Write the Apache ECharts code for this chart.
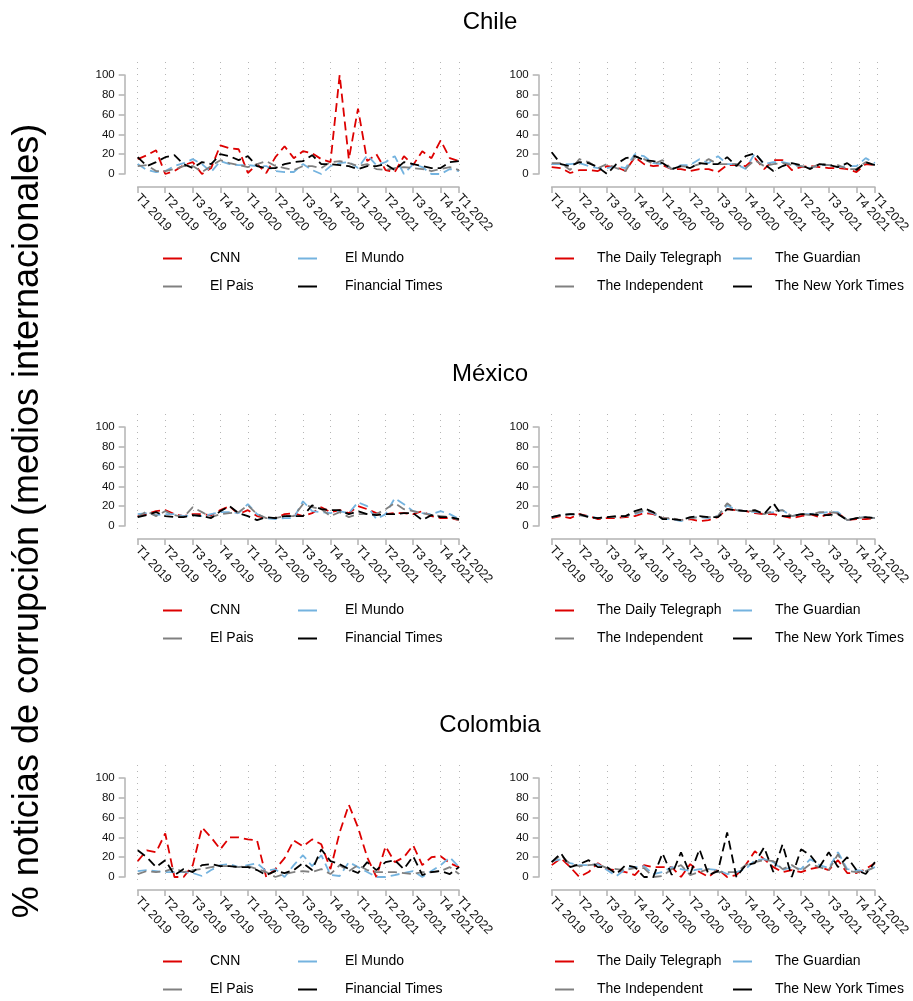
<!DOCTYPE html>
<html>
<head>
<meta charset="utf-8">
<script src="https://cdn.jsdelivr.net/npm/echarts@6/dist/echarts.min.js"></script>
<style>
  html, body { margin: 0; padding: 0; background: #fff; }
  #chart { width: 913px; height: 1001px; }
</style>
</head>
<body>
<div id="chart"></div>
<script>
// tick labels (quarters) and the month index where each sits
const quarterLabels = ['T1 2019', 'T2 2019', 'T3 2019', 'T4 2019', 'T1 2020', 'T2 2020', 'T3 2020',
  'T4 2020', 'T1 2021', 'T2 2021', 'T3 2021', 'T4 2021', 'T1 2022'];
const tickMonths = [0, 3, 6, 9, 12, 15, 18, 21, 24, 27, 30, 33, 35];

const countries = ['Chile', 'México', 'Colombia'];
const namesLeft = ['CNN', 'El Mundo', 'El Pais', 'Financial Times'];
const namesRight = ['The Daily Telegraph', 'The Guardian', 'The Independent', 'The New York Times'];

// monthly values, Jan 2019 - Dec 2021
const chileCNN = [15,19,24,0,3,9,12,0,6,29,26,25, 1,10,1,17,28,16,23,21,15,12,100,15, 66,13,20,4,2,18,9,23,16,34,16,13];
const chileElMundo = [10,4,2,3,8,11,15,10,2,13,10,9, 9,8,8,3,2,2,10,4,0,8,11,12, 6,19,9,12,18,0,10,7,0,0,5,3];
const chileElPais = [8,9,3,3,5,8,8,2,8,14,11,9, 7,10,13,8,6,4,8,8,6,12,13,11, 8,10,5,4,6,7,6,5,3,5,7,4];
const chileFT = [17,8,12,17,19,10,6,12,10,20,18,14, 18,8,6,6,10,12,13,19,10,10,9,8, 5,8,8,10,4,12,10,8,6,6,12,13];

const chileDT = [7,6,1,4,4,3,8,7,3,17,10,8, 9,5,5,3,5,5,2,9,9,8,16,5, 14,14,4,7,8,7,6,6,5,2,10,9];
const chileGuardian = [10,10,10,11,8,6,6,8,6,20,18,11, 10,5,9,9,15,11,18,10,10,5,21,10, 12,12,10,8,6,9,9,7,8,8,16,11];
const chileIndep = [11,11,4,15,12,6,10,6,3,18,15,10, 14,5,8,7,10,15,10,10,10,6,14,8, 10,11,9,8,6,10,9,9,5,5,12,9];
const chileNYT = [22,10,8,12,11,7,0,10,16,18,14,13, 11,5,8,6,11,10,10,17,8,18,21,10, 3,8,11,9,5,10,9,7,11,4,12,9];

const mexicoCNN = [10,12,15,16,12,10,12,12,11,16,20,12, 16,10,8,8,12,13,10,13,19,14,16,13, 20,17,13,12,13,13,12,15,10,8,8,6];
const mexicoElMundo = [12,13,11,12,12,10,11,10,12,14,14,13, 22,12,8,7,8,8,25,15,14,13,15,13, 24,20,7,12,28,22,15,13,12,15,12,7];
const mexicoElPais = [9,15,10,15,11,9,19,14,9,12,13,14, 21,12,8,8,10,10,22,19,17,10,14,9, 12,12,12,17,23,17,15,13,11,10,9,6];
const mexicoFT = [9,11,14,10,9,9,11,10,8,15,20,13, 10,6,9,8,10,10,10,21,17,16,16,12, 15,12,11,12,12,13,13,6,11,9,9,7];

const mexicoDT = [8,10,8,12,10,7,8,8,9,10,13,12, 8,7,6,7,5,6,9,17,16,15,13,12, 12,10,8,10,12,9,12,13,6,7,7,8];
const mexicoGuardian = [9,11,12,11,10,8,9,9,10,12,15,13, 7,7,5,8,9,8,10,21,16,15,14,13, 14,16,10,12,12,13,14,14,6,8,9,8];
const mexicoIndep = [9,11,12,11,9,8,9,9,10,13,16,14, 8,8,6,8,9,9,10,23,16,15,15,12, 15,16,10,12,11,14,14,13,6,8,9,8];
const mexicoNYT = [9,11,12,12,9,8,9,10,10,15,18,14, 7,7,6,9,10,9,9,17,16,15,16,12, 23,10,10,12,12,11,11,12,6,8,9,8];

const colombiaCNN = [16,27,25,44,0,0,12,50,40,28,40,40, 38,37,0,8,19,37,31,38,33,8,45,73, 50,20,0,31,15,20,32,12,20,21,14,10];
const colombiaElMundo = [6,7,6,5,5,5,4,1,7,12,13,10, 12,14,6,8,0,12,22,11,22,2,1,15, 10,5,0,0,2,4,6,0,6,12,20,10];
const colombiaElPais = [3,6,5,6,9,5,7,8,10,11,11,10, 11,8,5,0,3,5,6,5,8,3,12,6, 12,7,5,5,5,4,3,5,5,6,10,3];
const colombiaFT = [27,20,10,17,2,8,5,12,13,11,11,10, 10,7,2,6,4,7,14,7,28,16,13,8, 4,15,7,15,17,8,21,2,5,6,3,10];

const colombiaDT = [12,19,10,0,5,14,8,7,5,2,12,10, 10,10,0,13,5,0,8,0,2,12,26,18, 10,5,7,5,8,10,7,17,4,4,8,14];
const colombiaGuardian = [16,18,14,12,12,13,7,1,8,10,11,3, 5,10,8,6,8,8,7,3,5,8,17,18, 15,7,10,8,18,12,9,25,8,7,6,10];
const colombiaIndep = [15,22,13,11,12,13,9,8,7,9,9,0, 1,8,12,2,5,8,5,5,5,12,15,17, 16,8,12,6,13,10,7,23,6,5,6,10];
const colombiaNYT = [15,24,10,13,17,10,10,3,12,10,0,0, 24,2,25,3,28,2,6,45,0,12, 14,30,5,33,0,28,22,10,25,10,20,7,3,15];

const panelData = [
  [[chileCNN, chileElMundo, chileElPais, chileFT], [chileDT, chileGuardian, chileIndep, chileNYT]],
  [[mexicoCNN, mexicoElMundo, mexicoElPais, mexicoFT], [mexicoDT, mexicoGuardian, mexicoIndep, mexicoNYT]],
  [[colombiaCNN, colombiaElMundo, colombiaElPais, colombiaFT], [colombiaDT, colombiaGuardian, colombiaIndep, colombiaNYT]]
];

const colors = ['#dd0000', '#74b3df', '#808080', '#000000'];
const FONT = '"Liberation Sans", Arial, Helvetica, sans-serif';

// layout
const rowY100 = [75, 427, 778];     // pixel of value 100
const rowTitleY = [22, 374, 725];
const colLeft = [137.7, 551.7];
const colWidth = [321.3, 326];
const legendIconX = [[163, 298], [555, 733]];
const legendTextPad = [23, 18];

const chart = echarts.init(document.getElementById('chart'));

const grid = [], xAxis = [], yAxis = [], series = [], legend = [], graphic = [];

function tickLabel(v) {
  const i = tickMonths.indexOf(v);
  return i >= 0 ? quarterLabels[i] : '';
}

for (let r = 0; r < 3; r++) {
  graphic.push({
    type: 'text', x: 490, y: rowTitleY[r],
    style: { text: countries[r], fontSize: 24, fontFamily: FONT, fill: '#000', align: 'center', verticalAlign: 'middle' }
  });
  for (let c = 0; c < 2; c++) {
    const top = rowY100[r];
    // dotted vertical guides (taller than the data area)
    const gDot = grid.length;
    grid.push({ left: colLeft[c], width: colWidth[c], top: top - 13, height: 99 + 19, z: 0 });
    xAxis.push({
      gridIndex: gDot, type: 'value', min: 0, max: 35, interval: 3,
      axisLine: { show: false }, axisTick: { show: false }, axisLabel: { show: false },
      splitLine: { show: true, lineStyle: { color: '#b5b5b5', width: 1, type: [1, 5] } }
    });
    yAxis.push({ gridIndex: gDot, type: 'value', min: 0, max: 1, show: false, splitLine: { show: false } });

    // data area
    const g = grid.length;
    grid.push({ left: colLeft[c], width: colWidth[c], top: top, height: 99 });
    xAxis.push({
      gridIndex: g, type: 'value', min: 0, max: 35, interval: 3, offset: 13,
      axisLine: { show: true, onZero: false, lineStyle: { color: '#b3b3b3', width: 1.5 } },
      axisTick: { show: true, length: 6, lineStyle: { color: '#b3b3b3', width: 1.5 } },
      axisLabel: {
        rotate: -47, margin: 9, fontSize: 12.5, color: '#111', fontFamily: FONT,
        showMinLabel: true, showMaxLabel: true, formatter: tickLabel
      },
      splitLine: { show: false }
    });
    yAxis.push({
      gridIndex: g, type: 'value', min: 0, max: 100, interval: 20, offset: 13,
      axisLine: { show: true, onZero: false, lineStyle: { color: '#b3b3b3', width: 1.5 } },
      axisTick: { show: true, length: 6, lineStyle: { color: '#b3b3b3', width: 1.5 } },
      axisLabel: { fontSize: 11.5, color: '#111', margin: 10, fontFamily: FONT },
      splitLine: { show: false }
    });

    const names = c === 0 ? namesLeft : namesRight;
    panelData[r][c].forEach((vals, k) => {
      series.push({
        name: names[k], type: 'line', xAxisIndex: g, yAxisIndex: g,
        data: vals.map((v, i) => [i, v]),
        showSymbol: false, clip: false, animation: false,
        lineStyle: { color: colors[k], width: 1.8, type: [9, 5] },
        itemStyle: { color: colors[k] }
      });
      // legend: 2 columns x 2 rows
      const col = k % 2, row = Math.floor(k / 2);
      legend.push({
        data: [names[k]], left: legendIconX[c][col], top: top + 99 + 84.5 + row * 28 - 8,
        padding: 0, icon: 'rect', itemWidth: 19, itemHeight: 2,
        itemStyle: { borderWidth: 0 },
        textStyle: { fontSize: 14, color: '#000', fontFamily: FONT, lineHeight: 16, padding: [0, 0, 0, legendTextPad[c]] },
        selectedMode: false
      });
    });
  }
}

graphic.push({
  type: 'text', x: 28, y: 521, rotation: Math.PI / 2,
  style: { text: '% noticias de corrupción (medios internacionales)', fontSize: 36, fontFamily: FONT, fill: '#000', align: 'center', verticalAlign: 'middle' }
});

chart.setOption({
  backgroundColor: '#fff',
  animation: false,
  grid, xAxis, yAxis, series, legend, graphic
});
</script>
</body>
</html>
